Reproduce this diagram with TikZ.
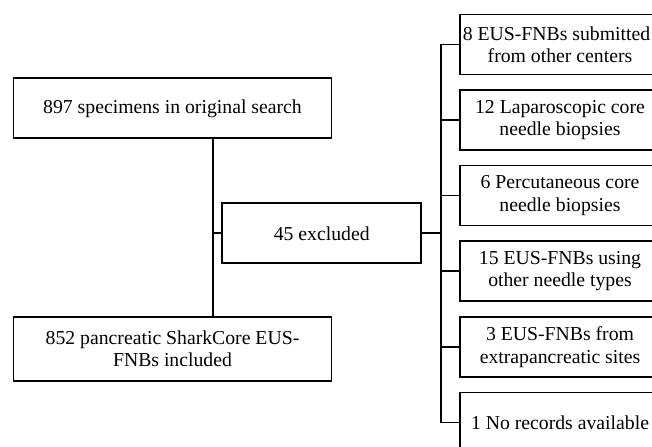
\documentclass[tikz,border=0pt]{standalone}
\usepackage{fontspec}
\setmainfont{Liberation Serif}
\usepackage{tikz}
\usetikzlibrary{positioning}

\tikzset{
  stage/.style={draw,line width=1.6bp,align=center,inner sep=0pt,
    font=\fontsize{19.8}{22.5}\selectfont},
  reason/.style={stage,minimum width=200bp,minimum height=60bp},
  link/.style={line width=1.6bp}
}

\begin{document}
\begin{tikzpicture}[x=1bp,y=-1bp]
\useasboundingbox (0,0) rectangle (652,447);
% main flow
\node[stage,minimum width=318bp,minimum height=60bp] (search) at (172.5,108.3) {897 specimens in original search};
\node[stage,minimum width=318bp,minimum height=64bp] (incl) at (172.5,348.8) {852 pancreatic SharkCore EUS-\\FNBs included};
\node[stage,minimum width=199bp,minimum height=60bp] (excl) at (321.7,233.3) {45 excluded};
\coordinate (spine) at (212.7,0);
\coordinate (bus) at (440.7,0);
% exclusion reasons
\node[reason] (r1) at (560,44.5) {8 EUS-FNBs submitted\hspace*{7bp}\\from other centers};
\node[reason] (r2) at (560,120) {12 Laparoscopic core\\needle biopsies};
\node[reason] (r3) at (560,195.5) {6 Percutaneous core\\needle biopsies};
\node[reason] (r4) at (560,271) {15 EUS-FNBs using\\other needle types};
\node[reason] (r5) at (560,347) {3 EUS-FNBs from\\extrapancreatic sites};
\node[reason] (r6) at (560,422.3) {1 No records available};
% connectors
\draw[link] (search.south -| spine) -- (incl.north -| spine);
\draw[link] (excl.west) -- (excl.west -| spine);
\draw[link] (excl.east) -- (excl.east -| bus);
\draw[link] (r1.west) -- (r1.west -| bus) -- (r6.west -| bus) -- (r6.west);
\foreach \i in {2,...,5}
  \draw[link] (r\i.west) -- (r\i.west -| bus);
\end{tikzpicture}
\end{document}
